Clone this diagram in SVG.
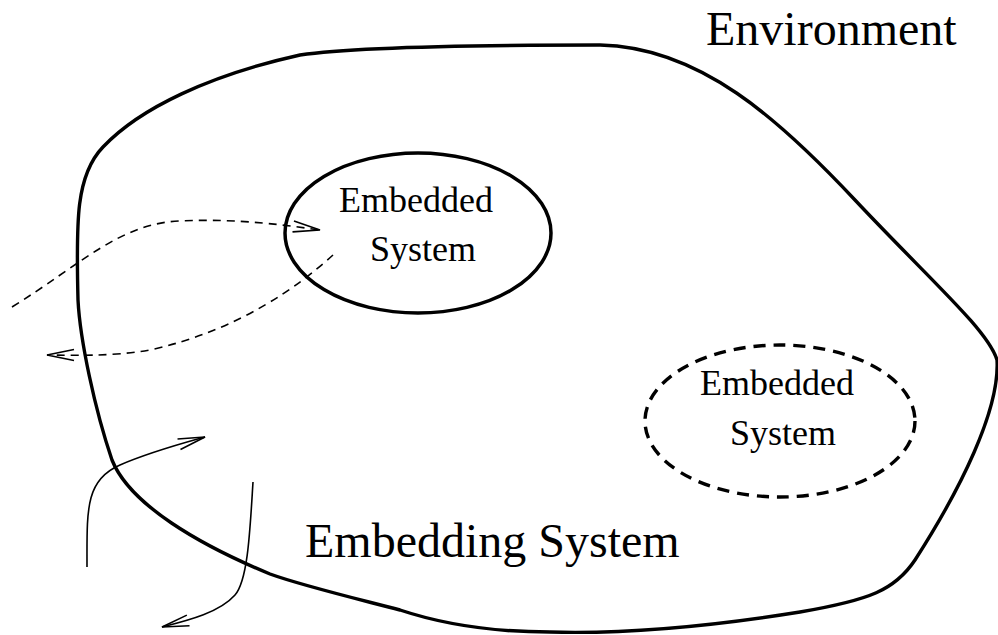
<svg xmlns="http://www.w3.org/2000/svg" width="998" height="635" viewBox="0 0 998 635">
<style>
.txt{font-family:"Liberation Serif","Times New Roman",serif;fill:#000}
.big{font-size:48px}
.small{font-size:36px}
.outline{fill:none;stroke:#000;stroke-width:3.4}
.thin{fill:none;stroke:#000;stroke-width:1.6}
.dash{stroke-dasharray:8 6}
</style>
<defs>
<marker id="arr" markerUnits="userSpaceOnUse" markerWidth="40" markerHeight="20" viewBox="-30 -10 32 20" refX="0" refY="0" orient="auto" overflow="visible">
<path d="M -27,-5.5 L 0,0 L -27,5.5" fill="none" stroke="#000" stroke-width="1.6" stroke-dasharray="none"/>
</marker>
</defs>
<rect width="998" height="635" fill="#fff"/>
<g id="environment">
<text class="txt big" x="706" y="45">Environment</text>
</g>
<g id="embedding-system">
<path class="outline" d="M 78,300 C 76,220 76,175 103,147 C 140,108 210,75 300,55 C 360,46 500,45 600,45 C 700,47 780,120 855,200 C 930,280 988,330 997,360 C 1000,410 960,490 915,560 C 895,590 870,600 800,612 C 700,628 620,634 550,632 C 480,632 430,620 400,610 C 350,597 300,585 270,574 C 200,545 130,505 112,460 C 95,410 80,340 78,300 Z"/>
<text class="txt big" x="305" y="557">Embedding System</text>
</g>
<g id="embedded-system-1">
<ellipse class="outline" cx="418" cy="233" rx="133" ry="80" style="stroke-width:3.5"/>
<text class="txt small" x="339" y="212">Embedded</text>
<text class="txt small" x="370" y="261">System</text>
</g>
<g id="embedded-system-2">
<ellipse class="outline" cx="780" cy="421" rx="135" ry="76" style="stroke-dasharray:12 8"/>
<text class="txt small" x="700" y="395">Embedded</text>
<text class="txt small" x="730" y="445">System</text>
</g>
<g id="connectors">
<path class="thin dash" d="M 12,307 C 80,265 120,223 180,221 C 240,218 290,226 320,230" marker-end="url(#arr)"/>
<path class="thin dash" d="M 333,255 C 300,285 240,330 150,350 C 110,357 70,355 47,355" marker-end="url(#arr)"/>
<path class="thin" d="M 87,567 C 87,510 85,480 120,465 C 150,452 180,444 205,437" marker-end="url(#arr)"/>
<path class="thin" d="M 253,482 C 250,530 248,580 235,595 C 220,612 190,620 162,627" marker-end="url(#arr)"/>
</g>
</svg>
